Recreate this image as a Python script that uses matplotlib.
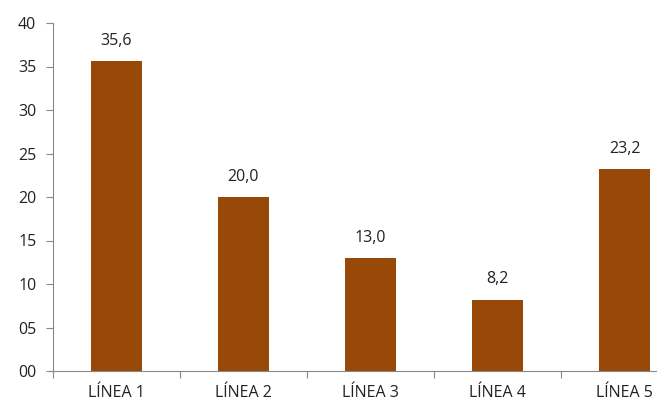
import matplotlib
matplotlib.use("Agg")
import matplotlib.pyplot as plt
import numpy as np

categories = ["LÍNEA 1", "LÍNEA 2", "LÍNEA 3", "LÍNEA 4", "LÍNEA 5"]
values = [35.6, 20.0, 13.0, 8.2, 23.2]
yticks = [0, 5, 10, 15, 20, 25, 30, 35, 40]

plt.rcParams['font.family'] = ['Open Sans', 'DejaVu Sans']

fig = plt.figure(figsize=(6.57, 4.12), dpi=100)
ax = fig.add_axes([53/657, 41/412, 635/657, 348/412])

x = np.arange(len(categories))
ax.bar(x, values, width=0.4, color="#984807")

for xi, v in zip(x, values):
    ax.text(xi, v + 1.4, f"{v:.1f}".replace(".", ","), ha="center", va="bottom",
            fontsize=11.5, color="#222222")

ax.set_xlim(-0.5, 4.5)
ax.set_ylim(0, 40)
ax.set_yticks(yticks)
ax.set_yticklabels([f"{t:02d}" for t in yticks], fontsize=11.5, color="#222222")

# category labels between ticks, ticks on boundaries
ax.set_xticks(np.arange(-0.5, 5.0, 1.0))
ax.set_xticklabels([])
ax.set_xticks(x, minor=True)
ax.set_xticklabels(categories, minor=True, fontsize=11.5, color="#222222")
ax.tick_params(axis="x", which="minor", length=0, pad=10)
ax.tick_params(axis="x", which="major", length=5, color="#888888")
ax.tick_params(axis="y", length=5, color="#888888", pad=7)

for s in ["top", "right"]:
    ax.spines[s].set_visible(False)
for s in ["left", "bottom"]:
    ax.spines[s].set_color("#888888")

fig.savefig("out.png", dpi=100)
